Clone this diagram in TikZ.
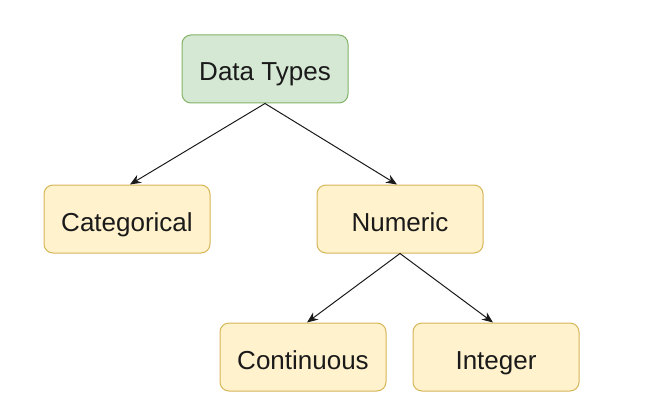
\documentclass[tikz,border=0pt]{standalone}
\usepackage{fontspec}
\setmainfont{Liberation Sans}
\definecolor{dtGreenFill}{HTML}{D5E8D4}
\definecolor{dtGreenLine}{HTML}{82B366}
\definecolor{dtYellowFill}{HTML}{FFF2CC}
\definecolor{dtYellowLine}{HTML}{D6B656}
\definecolor{dtInk}{HTML}{1A1A1A}
\usepackage{tikz}
\usetikzlibrary{arrows.meta, positioning}

\begin{document}
\begin{tikzpicture}[
  x=1pt, y=-1pt,
  >={Stealth[length=11pt, width=9pt]},
  root/.style={draw=dtGreenLine, line width=1pt, rounded corners=9pt,
               minimum height=68pt, minimum width=166pt,
               text height=26pt, text depth=2pt,
               align=center, font=\fontsize{26}{30}\selectfont,
               text=dtInk, fill=dtGreenFill},
  leaf/.style={draw=dtYellowLine, line width=1pt, rounded corners=9pt,
               minimum height=68pt, minimum width=166pt,
               text height=26pt, text depth=2pt,
               align=center, font=\fontsize{26}{30}\selectfont,
               text=dtInk, fill=dtYellowFill},
  link/.style={->, line width=1pt, color=dtInk},
]
  \useasboundingbox (0,0) rectangle (649,412);

  % root on top
  \node[root] (types) at (265, 69) {Data Types};

  % second level
  \node[leaf] (cat)   at (127,219) {Categorical};
  \node[leaf] (num)   at (400,219) {Numeric};

  % numeric splits in two
  \node[leaf] (cont)  at (303,357) {Continuous};
  \node[leaf] (int)   at (496,357) {Integer};

  \draw[link] (types.south) -- ([xshift=3pt]cat.north);
  \draw[link] (types.south) -- ([xshift=-3pt]num.north);
  \draw[link] (num.south)   -- ([xshift=4pt]cont.north);
  \draw[link] (num.south)   -- ([xshift=-3pt]int.north);
\end{tikzpicture}
\end{document}
